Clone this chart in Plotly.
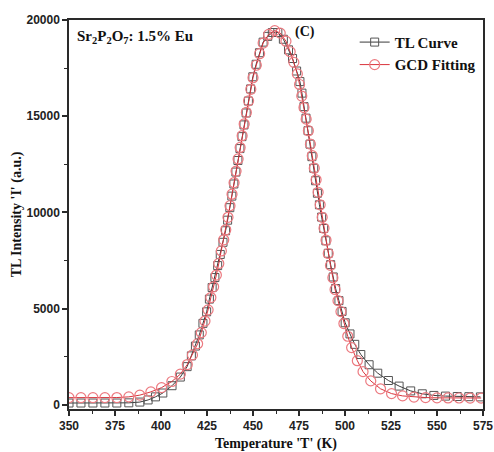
import plotly.graph_objects as go

# Measured TL glow curve (temperature in K, intensity in a.u.)
tl_temp = [350, 356.5, 363, 369.5, 376, 382.5, 388.5, 393, 397, 401, 406, 410.5, 414.2,
           416.5, 418.7, 420.8, 422.8, 424.8, 426.3, 427.8, 429.3, 430.8, 432.2, 433.7,
           435.1, 436.2, 437.4, 438.5, 439.6, 440.7, 441.8, 442.9, 444.0, 445.1, 446.3,
           447.5, 448.7, 449.9, 451.7, 453.5, 455.5, 458.0, 460.5, 463.5, 466.5, 469.3,
           471.5, 473.7, 475.5, 476.6, 477.7, 478.8, 479.9, 481, 482, 483, 484, 485,
           486.1, 487.3, 488.4, 489.6, 490.9, 492.2, 493.6, 494.9, 496.7, 498.4, 500.1,
           502.7, 505.3, 508.6, 513.1, 517.8, 523.6, 529.4, 535.7, 542, 548.3, 554.6,
           561, 567.3, 573.6]
tl_int = [100, 100, 100, 100, 100, 110, 150, 260, 420, 620, 1000, 1450, 1990,
          2550, 3060, 3640, 4240, 4840, 5500, 6100, 6620, 7240, 7820, 8450,
          9050, 9600, 10250, 10850, 11480, 12100, 12700, 13320, 13940, 14550, 15170,
          15790, 16420, 17050, 17700, 18300, 18850, 19150, 19350, 19350, 19000, 18450,
          18000, 17350, 16800, 16200, 15500, 14900, 14250, 13550, 12900, 12300, 11650, 11000,
          10400, 9760, 9170, 8530, 7880, 7290, 6650, 6050, 5420, 4860, 4270,
          3690, 3150, 2620, 2090, 1650, 1270, 980, 730, 580, 495, 460,
          440, 430, 420]

# General-order (GCD) fit of the same glow peak
fit_temp = [350, 356.5, 363, 369.5, 376, 382.5, 388.5, 394.5, 400.3, 405.9, 410.5, 414.3,
            417.1, 419.9, 421.9, 423.9, 425.6, 427.1, 428.6, 430.1, 431.4, 432.8, 434.1,
            435.2, 436.4, 437.5, 438.6, 439.7, 440.8, 441.9, 443.0, 444.1, 445.2, 446.4,
            447.6, 448.8, 450.0, 451.8, 453.6, 455.5, 458.5, 461.8, 464.8, 467.9, 470.2,
            472.2, 474.1, 475.3, 476.5, 477.7, 478.9, 480.1, 481.2, 482.2, 483.3, 484.3,
            485.4, 486.5, 487.6, 488.6, 489.7, 490.9, 492.1, 493.4, 494.6, 496.2, 497.8,
            499.4, 501.5, 503.6, 506.7, 509.8, 514, 519.3, 525.3, 531.3, 537.5, 543.8,
            550, 556, 562, 568, 574]
fit_int = [380, 380, 380, 380, 385, 420, 510, 680, 900, 1220, 1600, 2100,
           2600, 3180, 3760, 4360, 4940, 5580, 6140, 6750, 7350, 8000, 8580,
           9100, 9750, 10350, 10950, 11550, 12150, 12780, 13380, 13990, 14600, 15200,
           15800, 16400, 17000, 17650, 18250, 18800, 19250, 19450, 19320, 18900, 18350,
           17800, 17200, 16650, 16050, 15450, 14850, 14250, 13550, 12950, 12300, 11700,
           11050, 10400, 9750, 9180, 8560, 7870, 7250, 6610, 6000, 5420, 4850,
           4230, 3570, 2980, 2300, 1730, 1250, 840, 590, 470, 410, 385,
           370, 365, 362, 360, 360]

x_ticks = [350, 375, 400, 425, 450, 475, 500, 525, 550, 575]
y_ticks = [0, 5000, 10000, 15000, 20000]

serif = "Liberation Serif"
sans = "Liberation Sans"
axis_col = "#2a2a2a"

fig = go.Figure()
fig.add_trace(go.Scatter(
    x=tl_temp, y=tl_int, mode="lines+markers", name="TL Curve",
    line=dict(color="#3a3a3a", width=1),
    marker=dict(symbol="square-open", size=8, color="#555555", line=dict(width=1)),
))
fig.add_trace(go.Scatter(
    x=fit_temp, y=fit_int, mode="lines+markers", name="GCD Fitting",
    line=dict(color="#d9343c", width=1),
    marker=dict(symbol="circle-open", size=10, color="#ec7a80", line=dict(width=1.2)),
))

axis_common = dict(
    showline=True, linecolor=axis_col, linewidth=1.5, mirror=True,
    showgrid=False, zeroline=False, ticks="outside", ticklen=5,
    tickcolor=axis_col, tickwidth=1.5, ticklabeloverflow="allow",
    automargin=False,
    tickfont=dict(family=sans, size=12, color="#222222", weight="bold"),
    minor=dict(ticks="outside", ticklen=3, tickcolor=axis_col, tickwidth=1.2),
)

fig.update_xaxes(
    range=[350, 575], tickvals=x_ticks, ticktext=[str(v) for v in x_ticks],
    title=dict(text="Temperature 'T' (K)", standoff=13,
               font=dict(family=serif, size=14, color="#111111", weight="bold")),
    **axis_common,
)
fig.update_xaxes(minor=dict(tickvals=[v + 12.5 for v in x_ticks[:-1]]))
fig.update_yaxes(
    range=[-210, 20000], tickvals=y_ticks, ticktext=[str(v) for v in y_ticks],
    title=dict(text="TL Intensity 'I' (a.u.)", standoff=2,
               font=dict(family=serif, size=14, color="#111111", weight="bold")),
    **axis_common,
)
fig.update_yaxes(minor=dict(tickvals=[v + 2500 for v in y_ticks[:-1]]))

fig.add_annotation(
    x=0.015, y=0.985, xref="paper", yref="paper", xanchor="left", yanchor="top",
    text="Sr<sub>2</sub>P<sub>2</sub>O<sub>7</sub>: 1.5% Eu", showarrow=False,
    font=dict(family=serif, size=15, color="#111111", weight="bold"),
)
fig.add_annotation(
    x=472, y=19900, xref="x", yref="y", xanchor="left", yanchor="top",
    text="(C)", showarrow=False,
    font=dict(family=serif, size=14, color="#111111", weight="bold"),
)

fig.update_layout(
    width=494, height=452,
    margin=dict(l=69, r=11, t=20, b=43),
    paper_bgcolor="white", plot_bgcolor="white",
    legend=dict(
        x=0.69, y=0.985, xanchor="left", yanchor="top",
        bgcolor="rgba(0,0,0,0)", borderwidth=0,
        font=dict(family=serif, size=15, color="#111111", weight="bold"),
        tracegroupgap=0, itemwidth=30,
    ),
)

fig.write_html("out.html")
